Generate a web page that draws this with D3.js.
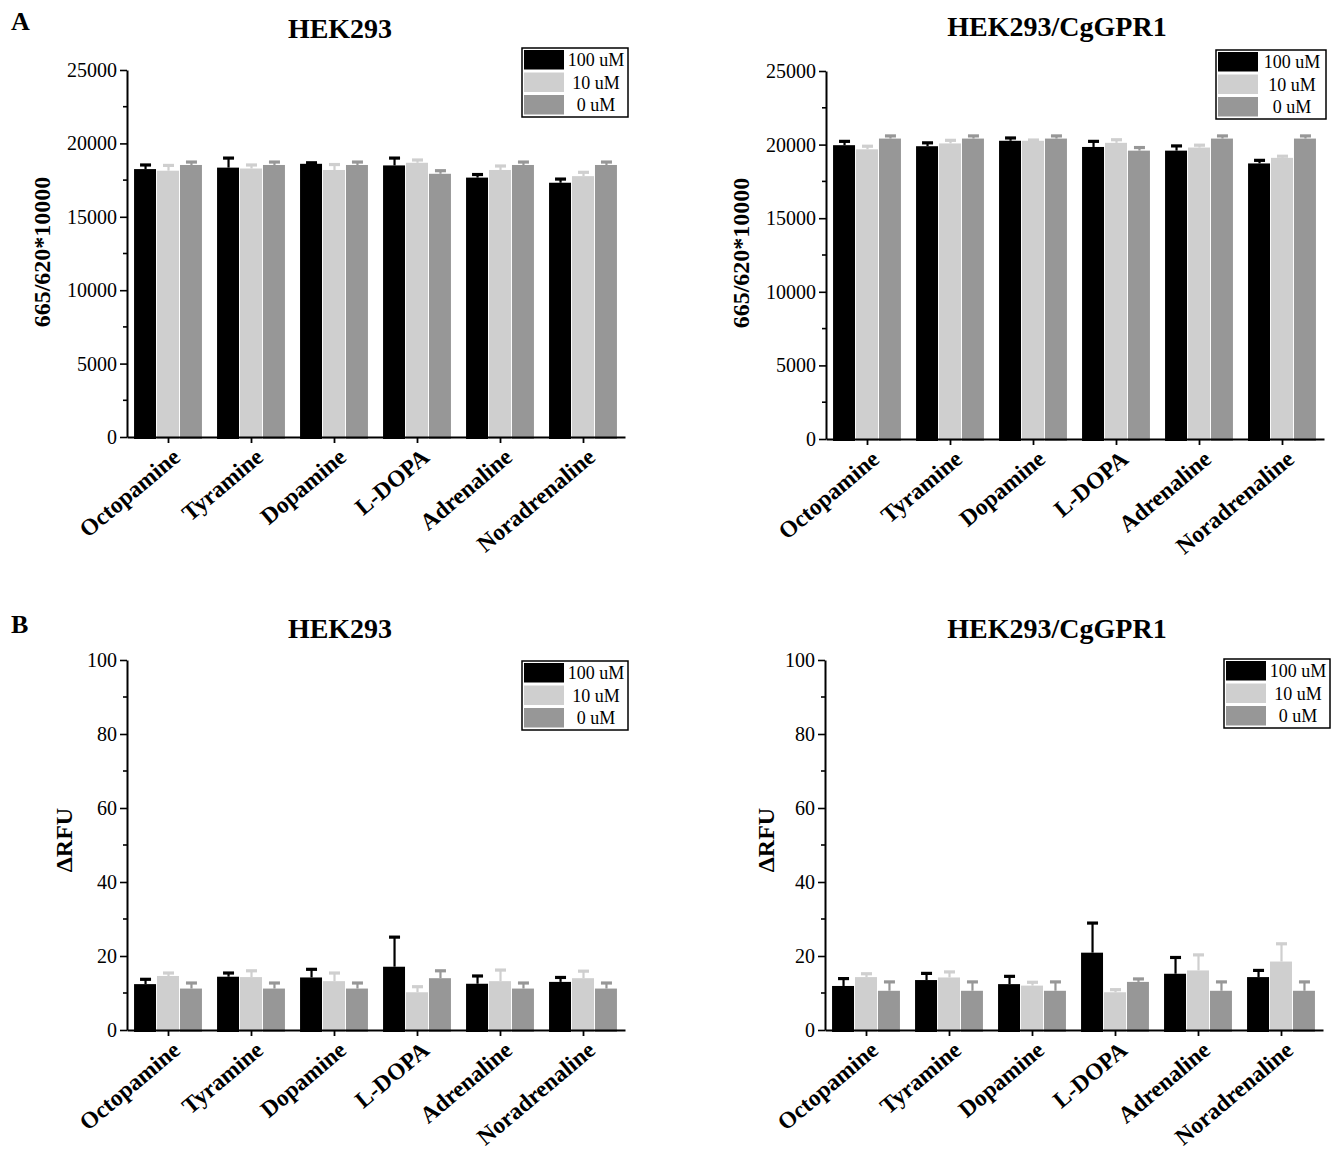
<!DOCTYPE html>
<html>
<head>
<meta charset="utf-8">
<script src="https://cdn.jsdelivr.net/npm/d3@7"></script>
<style>
    body { margin: 0; background: #fff; }
    text { font-family: "Liberation Serif", "Times New Roman", serif; fill: #000; }
</style>
</head>
<body>
<div id="vis"></div>
<script>
/* *************************** Data ***************************** */

var categories = ['Octopamine', 'Tyramine', 'Dopamine', 'L-DOPA', 'Adrenaline', 'Noradrenaline'];
var seriesNames = ['100 uM', '10 uM', '0 uM'];
var seriesColors = ['#000000', '#cfcfcf', '#979797'];

// Panel A, HEK293 (665/620*10000)
var aLeftMean = [
    [18250, 18350, 18610, 18500, 17670, 17320],
    [18140, 18290, 18190, 18680, 18190, 17770],
    [18530, 18530, 18530, 17930, 18530, 18530]
];
var aLeftErr = [
    [280, 650, 70, 500, 210, 250],
    [360, 240, 370, 190, 270, 260],
    [200, 200, 200, 210, 200, 200]
];

// Panel A, HEK293/CgGPR1
var aRightMean = [
    [19960, 19890, 20260, 19840, 19590, 18720],
    [19680, 20080, 20260, 20120, 19800, 19100],
    [20410, 20410, 20410, 19590, 20410, 20410]
];
var aRightErr = [
    [260, 230, 190, 380, 320, 210],
    [210, 210, 50, 210, 160, 110],
    [180, 180, 180, 210, 180, 180]
];

// Panel B, HEK293 (delta RFU)
var bLeftMean = [
    [12.4, 14.4, 14.2, 17.1, 12.5, 13.0],
    [14.6, 14.3, 13.2, 10.2, 13.2, 14.0],
    [11.2, 11.2, 11.2, 14.0, 11.2, 11.2]
];
var bLeftErr = [
    [1.3, 1.0, 2.2, 8.0, 2.1, 1.2],
    [0.8, 1.7, 2.2, 1.5, 3.0, 1.9],
    [1.5, 1.5, 1.5, 2.0, 1.5, 1.5]
];

// Panel B, HEK293/CgGPR1
var bRightMean = [
    [11.9, 13.5, 12.4, 20.9, 15.2, 14.3],
    [14.3, 14.2, 12.0, 10.2, 16.1, 18.5],
    [10.6, 10.6, 10.6, 13.0, 10.6, 10.6]
];
var bRightErr = [
    [2.0, 1.8, 2.1, 8.0, 4.4, 1.8],
    [0.9, 1.5, 0.9, 0.7, 4.2, 4.8],
    [2.4, 2.4, 2.4, 0.8, 2.4, 2.4]
];

var aTicks = [0, 5000, 10000, 15000, 20000, 25000];
var aMinor = [2500, 7500, 12500, 17500, 22500];
var bTicks = [0, 20, 40, 60, 80, 100];
var bMinor = [10, 30, 50, 70, 90];

/* *************************** Settings ***************************** */

var width = 1339;
var height = 1152;

var svg = d3.select('#vis')
    .append('svg')
    .attr('width', width)
    .attr('height', height);

// Panel letters
svg.append('text').attr('x', 11).attr('y', 30)
    .style('font-size', '26px').style('font-weight', 'bold').text('A');
svg.append('text').attr('x', 11).attr('y', 633)
    .style('font-size', '26px').style('font-weight', 'bold').text('B');

/* *************************** Draw one panel ***************************** */

var drawPanel = function(p) {
    var xScale = d3.scaleBand()
        .domain(categories)
        .range([p.x0, p.x0 + 498])
        .paddingInner(0.17)
        .paddingOuter(0.085);

    var subScale = d3.scaleBand()
        .domain(d3.range(seriesNames.length))
        .range([0, xScale.bandwidth()]);

    var yScale = d3.scaleLinear()
        .domain(p.domain)
        .range([p.yBottom, p.yTop]);

    var g = svg.append('g');

    // Bars, one group per category
    seriesNames.forEach(function(s, si) {
        var rows = categories.map(function(c, ci) {
            return { cat: c, v: p.mean[si][ci], e: p.err[si][ci] };
        });
        var color = seriesColors[si];

        // error bars (upper only) drawn behind the bar
        var eb = g.append('g').selectAll('g').data(rows).enter().append('g')
            .attr('transform', function(d) {
                return 'translate(' + (xScale(d.cat) + subScale(si) + subScale.bandwidth() / 2) + ',0)';
            });
        eb.append('line')
            .attr('x1', 0).attr('x2', 0)
            .attr('y1', function(d) { return yScale(d.v); })
            .attr('y2', function(d) { return yScale(d.v + d.e); })
            .attr('stroke', color)
            .attr('stroke-width', 2.2);
        eb.append('line')
            .attr('x1', -5.5).attr('x2', 5.5)
            .attr('y1', function(d) { return yScale(d.v + d.e); })
            .attr('y2', function(d) { return yScale(d.v + d.e); })
            .attr('stroke', color)
            .attr('stroke-width', 3.2);

        g.append('g').selectAll('rect').data(rows).enter().append('rect')
            .attr('x', function(d) { return xScale(d.cat) + subScale(si); })
            .attr('width', subScale.bandwidth() - 1)
            .attr('y', function(d) { return yScale(d.v); })
            .attr('height', function(d) { return yScale(0) - yScale(d.v) + 2; })
            .attr('fill', color);
    });

    // Y axis, major ticks
    var yAxis = d3.axisLeft(yScale)
        .tickValues(p.ticks)
        .tickFormat(d3.format('d'))
        .tickSize(7)
        .tickPadding(3)
        .tickSizeOuter(0);
    var yG = svg.append('g')
        .attr('transform', 'translate(' + p.x0 + ',0)')
        .call(yAxis);
    yG.select('.domain').attr('stroke-width', 2);
    yG.selectAll('.tick line').attr('stroke-width', 1.6);
    yG.selectAll('.tick text')
        .style('font-family', '"Liberation Serif", serif')
        .style('font-size', '20px');

    // Y axis, minor ticks
    svg.append('g').selectAll('line').data(p.minor).enter().append('line')
        .attr('x1', p.x0 - 4).attr('x2', p.x0)
        .attr('y1', function(d) { return yScale(d); })
        .attr('y2', function(d) { return yScale(d); })
        .attr('stroke', '#000')
        .attr('stroke-width', 1.6);

    // X axis
    var xAxis = d3.axisBottom(xScale).tickSize(6).tickSizeOuter(0).tickFormat('');
    var xG = svg.append('g')
        .attr('transform', 'translate(0,' + p.yBottom + ')')
        .call(xAxis);
    xG.select('.domain').attr('stroke-width', 2);
    xG.selectAll('.tick line').attr('stroke-width', 1.8);

    // Rotated category labels
    svg.append('g').selectAll('text').data(categories).enter().append('text')
        .attr('transform', function(d) {
            return 'translate(' + (xScale(d) + xScale.bandwidth() / 2 + 2) + ',' + (p.yBottom + 9) + ') rotate(-40)';
        })
        .attr('text-anchor', 'end')
        .attr('dy', '0.75em')
        .style('font-size', '23.5px')
        .style('font-weight', 'bold')
        .text(function(d) { return d; });

    // Title
    svg.append('text')
        .attr('x', p.titleX).attr('y', p.titleY)
        .attr('text-anchor', 'middle')
        .style('font-size', '28px')
        .style('font-weight', 'bold')
        .text(p.title);

    // Y axis title
    svg.append('text')
        .attr('transform', 'translate(' + p.yTitleX + ',' + p.yTitleY + ') rotate(-90)')
        .attr('text-anchor', 'middle')
        .style('font-size', '24px')
        .style('font-weight', 'bold')
        .text(p.yTitle);

    // Legend
    var lg = svg.append('g').attr('transform', 'translate(' + p.legX + ',' + p.legY + ')');
    lg.append('rect')
        .attr('x', 0).attr('y', 0)
        .attr('width', p.legW).attr('height', 69)
        .attr('fill', '#fff')
        .attr('stroke', '#000')
        .attr('stroke-width', 1.5);
    seriesNames.forEach(function(s, si) {
        lg.append('rect')
            .attr('x', 2).attr('y', 2 + si * 22.5)
            .attr('width', 40).attr('height', 19.5)
            .attr('fill', seriesColors[si]);
        lg.append('text')
            .attr('x', 42 + (p.legW - 42) / 2).attr('y', 18 + si * 22.5)
            .attr('text-anchor', 'middle')
            .style('font-size', '18px')
            .text(s);
    });
};

/* *************************** Panels ***************************** */

drawPanel({
    x0: 127, yTop: 70, yBottom: 437, domain: [0, 25000],
    ticks: aTicks, minor: aMinor, mean: aLeftMean, err: aLeftErr,
    title: 'HEK293', titleX: 340, titleY: 38,
    yTitle: '665/620*10000', yTitleX: 50, yTitleY: 252,
    legX: 522, legY: 48, legW: 106
});

drawPanel({
    x0: 826, yTop: 71, yBottom: 439, domain: [0, 25000],
    ticks: aTicks, minor: aMinor, mean: aRightMean, err: aRightErr,
    title: 'HEK293/CgGPR1', titleX: 1057, titleY: 36,
    yTitle: '665/620*10000', yTitleX: 749, yTitleY: 253,
    legX: 1216, legY: 50, legW: 110
});

drawPanel({
    x0: 127, yTop: 660, yBottom: 1030, domain: [0, 100],
    ticks: bTicks, minor: bMinor, mean: bLeftMean, err: bLeftErr,
    title: 'HEK293', titleX: 340, titleY: 638,
    yTitle: 'ΔRFU', yTitleX: 72, yTitleY: 840,
    legX: 522, legY: 661, legW: 106
});

drawPanel({
    x0: 825, yTop: 660, yBottom: 1030, domain: [0, 100],
    ticks: bTicks, minor: bMinor, mean: bRightMean, err: bRightErr,
    title: 'HEK293/CgGPR1', titleX: 1057, titleY: 638,
    yTitle: 'ΔRFU', yTitleX: 774, yTitleY: 840,
    legX: 1224, legY: 659, legW: 106
});
</script>
</body>
</html>
